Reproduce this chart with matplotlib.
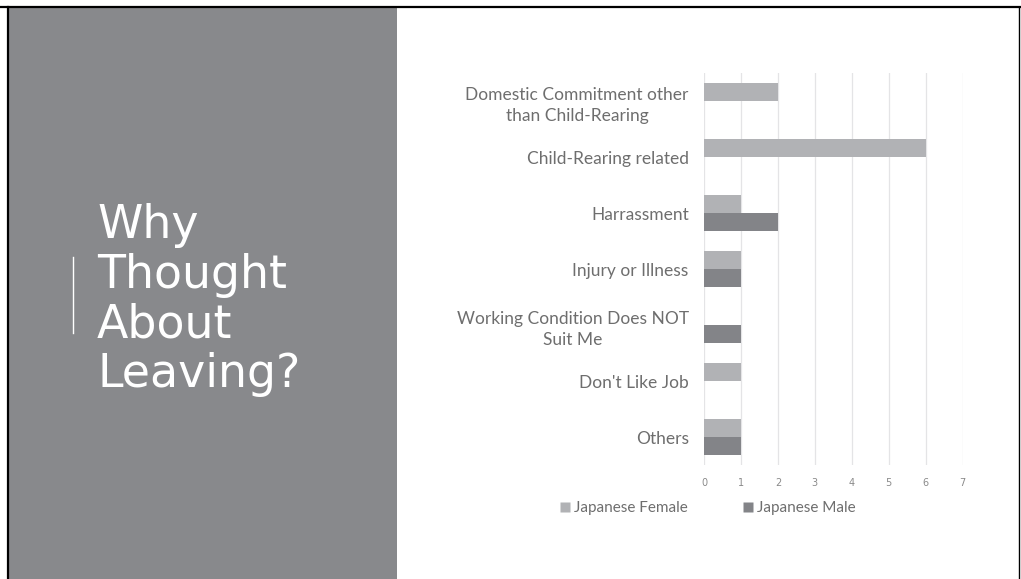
"""Slide: why Japanese staff thought about leaving."""

import matplotlib
matplotlib.use("Agg")
import matplotlib.pyplot as plt
from matplotlib.patches import Rectangle
from matplotlib.lines import Line2D
import numpy as np

categories = [
    "Domestic Commitment other\nthan Child-Rearing",
    "Child-Rearing related",
    "Harrassment",
    "Injury or Illness",
    "Working Condition Does NOT\nSuit Me",
    "Don't Like Job",
    "Others",
]
female = [2, 6, 1, 1, 0, 1, 1]
male = [0, 0, 2, 1, 1, 0, 1]
series_names = ["Japanese Female", "Japanese Male"]
xticks = list(range(0, 8))

PANEL = "#88898c"
FEMALE_C = "#b1b2b5"
MALE_C = "#838488"
TEXT_C = "#6e6e6e"

fig = plt.figure(figsize=(10.21, 5.79), dpi=100)
W, H = 1021, 579

# slide background + left title panel
fig.patches.append(Rectangle((9 / W, 0), (397 - 9) / W, 1 - 8 / H,
                             transform=fig.transFigure, facecolor=PANEL,
                             edgecolor="none", zorder=0))
fig.add_artist(Line2D([0, 1], [1 - 7 / H] * 2, transform=fig.transFigure,
                      color="black", lw=1.6))
fig.add_artist(Line2D([8 / W] * 2, [0, 1 - 7 / H], transform=fig.transFigure,
                      color="black", lw=1.6))
fig.add_artist(Line2D([1019 / W] * 2, [0, 1 - 7 / H], transform=fig.transFigure,
                      color="black", lw=1.0))
fig.add_artist(Line2D([73 / W] * 2, [1 - 257 / H, 1 - 333 / H],
                      transform=fig.transFigure, color="white", lw=1.0))
fig.text(97 / W, 1 - 300 / H, "Why\nThought\nAbout\nLeaving?",
         color="white", fontsize=33, family="DejaVu Sans",
         va="center", ha="left", linespacing=1.13)

# chart
ax = fig.add_axes([704 / W, 1 - 465 / H, (962.7 - 704) / W, (465 - 73) / H])
y = np.arange(len(categories))
bh = 0.33
ax.barh(y - bh / 2, female, height=bh, color=FEMALE_C, edgecolor="none",
        label=series_names[0], zorder=3)
ax.barh(y + bh / 2, male, height=bh, color=MALE_C, edgecolor="none",
        label=series_names[1], zorder=3)
ax.set_ylim(len(categories) - 0.5, -0.5)
ax.set_xlim(0, 7)
ax.set_xticks(xticks)
ax.set_yticks(y)
ax.set_yticklabels(categories, family="Lato", fontsize=12.5, color=TEXT_C,
                   ha="right", multialignment="center", linespacing=1.45)
ax.tick_params(axis="y", length=0, pad=11)
ax.tick_params(axis="x", length=0, pad=9, labelsize=7, labelcolor="#8a8a8a")
ax.grid(axis="x", color="#e4e4e6", lw=0.9, zorder=0)
for s in ax.spines.values():
    s.set_visible(False)

labels = series_names
handles = [Line2D([], [], marker="s", ls="none", markersize=7,
                  markerfacecolor=c, markeredgecolor="none")
           for c in (FEMALE_C, MALE_C)]
fig.legend(handles, labels, loc="center", bbox_to_anchor=(708 / W, 1 - 508 / H),
           ncol=2, frameon=False, handlelength=0.6, handletextpad=0.3,
           columnspacing=3.6, prop={"family": "Lato", "size": 11},
           labelcolor=TEXT_C)

fig.savefig("out.png", dpi=100)
